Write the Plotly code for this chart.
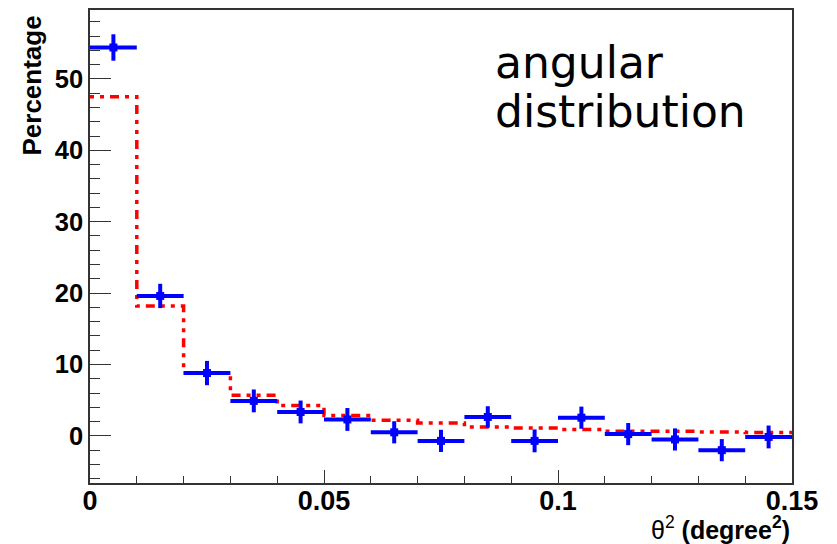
import plotly.graph_objects as go

# ---- data ----
bin_edges = [0.0, 0.01, 0.02, 0.03, 0.04, 0.05, 0.06, 0.07, 0.08, 0.09, 0.10,
             0.11, 0.12, 0.13, 0.14, 0.15]
bin_centers = [0.005, 0.015, 0.025, 0.035, 0.045, 0.055, 0.065, 0.075, 0.085,
               0.095, 0.105, 0.115, 0.125, 0.135, 0.145]
data_values = [54.4, 19.6, 8.8, 4.9, 3.35, 2.3, 0.5, -0.7, 2.65, -0.7, 2.55,
               0.25, -0.5, -2.0, -0.15]
data_errors = [1.85, 1.7, 1.7, 1.6, 1.6, 1.6, 1.55, 1.55, 1.5, 1.6, 1.55,
               1.55, 1.55, 1.55, 1.6]
model_values = [47.5, 18.2, 8.8, 5.7, 4.25, 2.85, 2.2, 1.8, 1.25, 1.1, 0.9,
                0.65, 0.65, 0.55, 0.47]
half_width = [0.005] * len(bin_centers)
x_tick_values = [0, 0.05, 0.1, 0.15]
x_tick_labels = ["0", "0.05", "0.1", "0.15"]
y_tick_values = [0, 10, 20, 30, 40, 50]

fig = go.Figure()

# red dash-dot step histogram
fig.add_trace(go.Scatter(
    x=bin_edges,
    y=model_values + [model_values[-1]],
    mode="lines",
    line=dict(shape="hv", color="#ff0000", width=3.5,
              dash="4px,6px,4px,6px,9px,6px"),
    hoverinfo="skip",
    showlegend=False,
))

# blue data points with error bars
fig.add_trace(go.Scatter(
    x=bin_centers,
    y=data_values,
    mode="markers",
    marker=dict(symbol="square", size=8, color="#0000ff"),
    error_x=dict(type="data", array=half_width, color="#0000ff",
                 thickness=4, width=0),
    error_y=dict(type="data", array=data_errors, color="#0000ff",
                 thickness=4, width=0),
    showlegend=False,
))

lib = "Liberation Sans, Arial, sans-serif"

fig.update_layout(
    width=837, height=544,
    margin=dict(l=90, r=45, t=8, b=61),
    paper_bgcolor="white", plot_bgcolor="white",
    xaxis=dict(
        range=[0, 0.15], tickvals=x_tick_values, ticktext=x_tick_labels,
        ticks="inside", ticklen=13, tickwidth=1.3, tickcolor="#333",
        minor=dict(dtick=0.01, tick0=0, ticks="inside", ticklen=7,
                   tickwidth=1.3, tickcolor="#333", showgrid=False),
        showline=True, linecolor="#333", linewidth=1.5, mirror=True,
        showgrid=False, zeroline=False, ticklabelstandoff=-7,
        tickfont=dict(family=lib, size=27, color="black", weight="bold"),
    ),
    yaxis=dict(
        range=[-6.6, 59.65], tickvals=y_tick_values,
        ticks="inside", ticklen=21, tickwidth=1.3, tickcolor="#333",
        minor=dict(dtick=2, tick0=0, ticks="inside", ticklen=10,
                   tickwidth=1.3, tickcolor="#333", showgrid=False),
        showline=True, linecolor="#333", linewidth=1.5, mirror=True,
        showgrid=False, zeroline=False,
        tickfont=dict(family=lib, size=25.5, color="black", weight="bold"),
    ),
    annotations=[
        dict(text="Percentage", textangle=-90, xref="paper", yref="paper",
             x=-0.083, y=0.992, xanchor="center", yanchor="top",
             showarrow=False,
             font=dict(family=lib, size=26, color="black", weight="bold")),
        dict(text="θ<sup>2</sup> <b>(degree<sup>2</sup>)</b>",
             xref="paper", yref="paper", x=1.0, y=-0.134,
             xanchor="right", yanchor="bottom", showarrow=False,
             font=dict(family=lib, size=25, color="black")),
        dict(text="angular", xref="paper", yref="paper",
             x=0.574, y=0.888, xanchor="left", yanchor="middle",
             showarrow=False,
             font=dict(family="DejaVu Sans", size=44, color="black")),
        dict(text="distribution", xref="paper", yref="paper",
             x=0.574, y=0.785, xanchor="left", yanchor="middle",
             showarrow=False,
             font=dict(family="DejaVu Sans", size=44, color="black")),
    ],
)

fig.write_html("out.html")
